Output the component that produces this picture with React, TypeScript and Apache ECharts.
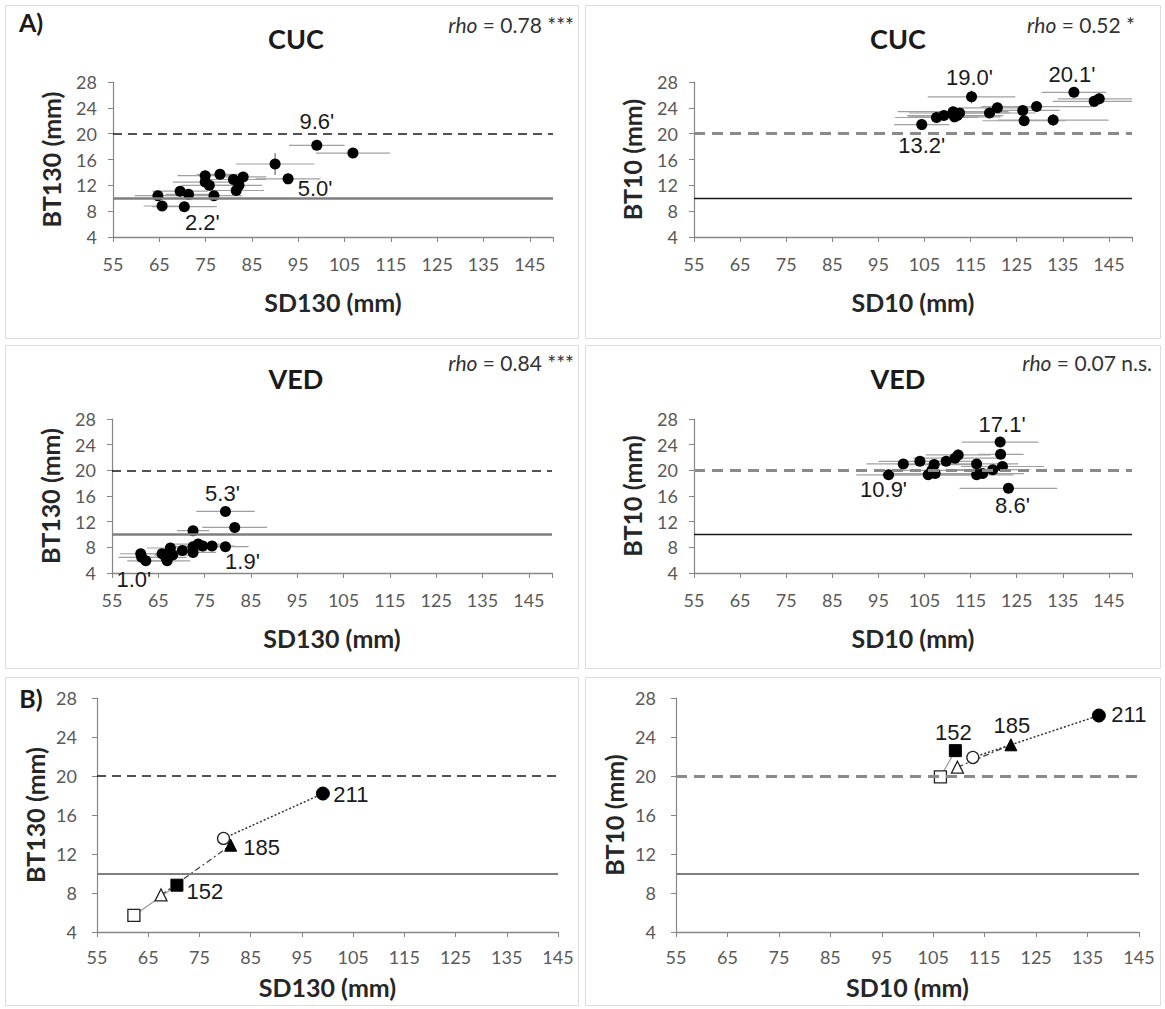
import React, { useEffect, useRef } from "react";
import * as echarts from "echarts";

// ---------- Data ----------
const xTickValues = [55, 65, 75, 85, 95, 105, 115, 125, 135, 145];
const yTickValues = [4, 8, 12, 16, 20, 24, 28];
const limitHigh = 20;
const limitLow = 10;

// Panel A — CUC, SD130 vs BT130
const cucSD130 = [64.7, 65.6, 70.4, 69.5, 71.3, 74.9, 74.9, 75.8, 76.8, 78.1, 81.0, 81.6, 82.2, 83.1, 90.0, 92.8, 99.0, 106.8];
const cucBT130 = [10.4, 8.8, 8.7, 11.1, 10.6, 13.5, 12.5, 12.0, 10.4, 13.7, 12.9, 11.2, 12.0, 13.3, 15.3, 13.0, 18.2, 17.0];
const cucSD130Err = [5, 4, 7, 6, 5, 6, 7, 6, 6, 5, 7, 6, 5, 5, 8.5, 7, 6, 8];
const cucBT130Err = [0.5, 0.4, 0.4, 0.6, 0.5, 0.6, 0.5, 0.5, 0.5, 0.5, 0.6, 0.5, 0.5, 0.6, 1.7, 0.6, 0.6, 0.5];
const cucA130Notes = [{ index: 16, text: "9.6'" }, { index: 15, text: "5.0'" }, { index: 2, text: "2.2'" }];

// Panel A — CUC, SD10 vs BT10
const cucSD10 = [104.4, 107.6, 109.2, 111.2, 112.1, 112.6, 115.2, 119.1, 120.8, 126.3, 126.6, 129.3, 132.9, 137.4, 141.8, 142.9, 111.5];
const cucBT10 = [21.4, 22.5, 22.8, 23.4, 22.8, 23.2, 25.7, 23.2, 24.0, 23.6, 22.0, 24.2, 22.1, 26.4, 25.0, 25.4, 22.6];
const cucSD10Err = [6, 9, 8, 12, 10, 11, 9.5, 10, 8, 8, 9, 12, 12, 7, 9, 9, 10];
const cucBT10Err = [0.8, 0.8, 0.7, 0.8, 0.7, 0.8, 1.0, 0.8, 0.8, 0.8, 0.7, 0.8, 0.9, 0.8, 0.9, 0.9, 0.7];
const cucA10Notes = [{ index: 6, text: "19.0'" }, { index: 13, text: "20.1'" }, { index: 0, text: "13.2'" }];

// Panel A — VED, SD130 vs BT130
const vedSD130 = [61.2, 61.4, 62.3, 65.8, 66.6, 66.9, 67.6, 68.1, 70.2, 72.5, 72.5, 72.5, 73.6, 74.6, 76.6, 79.5, 79.5, 81.5];
const vedBT130 = [7.0, 6.45, 5.9, 7.0, 6.45, 5.9, 7.9, 6.8, 7.5, 10.6, 8.1, 7.2, 8.5, 8.2, 8.2, 13.6, 8.1, 11.1];
const vedSD130Err = [4.5, 5, 4, 5, 4.5, 5, 5, 4, 5, 3.5, 6, 5, 6, 5, 5, 6.3, 5, 7];
const vedBT130Err = [0.4, 0.4, 0.4, 0.4, 0.4, 0.4, 0.4, 0.4, 0.4, 0.5, 0.4, 0.4, 0.4, 0.4, 0.4, 0.5, 0.4, 0.5];
const vedA130Notes = [{ index: 15, text: "5.3'" }, { index: 16, text: "1.9'" }, { index: 2, text: "1.0'" }];

// Panel A — VED, SD10 vs BT10
const vedSD10 = [97.2, 100.4, 104.0, 105.8, 106.6, 107.1, 107.3, 109.7, 111.6, 112.3, 116.3, 116.3, 117.6, 119.8, 121.4, 121.5, 121.9, 123.2];
const vedBT10 = [19.3, 21.0, 21.4, 19.3, 20.0, 20.9, 19.5, 21.4, 21.9, 22.4, 21.0, 19.3, 19.5, 20.1, 24.4, 22.5, 20.6, 17.2];
const vedSD10Err = [7, 8, 9, 10, 9, 8, 9, 7, 9, 7, 9, 8, 9, 8, 8.3, 5, 9, 10.6];
const vedBT10Err = [0.6, 0.6, 0.6, 0.6, 0.6, 0.6, 0.6, 0.6, 0.6, 0.9, 0.6, 0.6, 0.6, 0.6, 0.6, 0.6, 0.6, 0.6];
const vedA10Notes = [{ index: 14, text: "17.1'" }, { index: 0, text: "10.9'" }, { index: 17, text: "8.6'" }];

// Panel B — group means (open/filled symbol pairs)
const bSymbols = ["rect", "triangle", "rect", "circle", "triangle", "circle"];
const bFilled = [false, false, true, false, true, true];
const bLabels = ["", "", "152", "", "185", "211"];
const bSD130 = [62.2, 67.5, 70.6, 79.7, 81.1, 99.1];
const bBT130 = [5.7, 7.8, 8.8, 13.6, 12.9, 18.2];
const bSD10 = [106.4, 109.7, 109.3, 112.7, 120.1, 137.2];
const bBT10 = [19.9, 20.9, 22.6, 21.9, 23.2, 26.2];
const bPairs = [[0, 2], [1, 4], [3, 5]];

// ---------- Layout / styles ----------
const grids = [
  { left: 113, top: 82, width: 440, height: 155 },
  { left: 694, top: 82, width: 438, height: 155 },
  { left: 112, top: 419, width: 440, height: 154 },
  { left: 694, top: 419, width: 438, height: 154 },
  { left: 97, top: 698, width: 461, height: 234 },
  { left: 676, top: 698, width: 463, height: 234 },
];
const xMax = [150, 150, 150, 150, 145, 145];
const xNames = ["SD130 (mm)", "SD10 (mm)", "SD130 (mm)", "SD10 (mm)", "SD130 (mm)", "SD10 (mm)"];
const yNames = ["BT130 (mm)", "BT10 (mm)", "BT130 (mm)", "BT10 (mm)", "BT130 (mm)", "BT10 (mm)"];
const xNameGap = [52, 52, 52, 52, 42, 42];
const xLabelMargin = [18, 18, 18, 18, 16, 16];
const yLabelMargin = [16, 16, 16, 16, 20, 20];

const dashBlack = { color: "#1a1a1a", width: 1.6, type: [9, 6] };
const dashGray = { color: "#8a8a8a", width: 3, type: [11, 7] };
const solidGray = { color: "#7f7f7f", width: 2.5, type: "solid" };
const solidBlack = { color: "#1a1a1a", width: 1.4, type: "solid" };
const refStyles = [
  [dashBlack, solidGray],
  [dashGray, solidBlack],
  [dashBlack, solidGray],
  [dashGray, solidBlack],
  [dashBlack, { ...solidGray, width: 2 }],
  [dashGray, { ...solidGray, width: 2 }],
];

// label offsets (text centre relative to point, px)
const noteOffsets = [
  [[0, -24], [27, 10], [18, 16]],
  [[-2, -19], [-2, -18], [0, 21]],
  [[-3, -18], [17, 15], [-12, 19]],
  [[2, -18], [-5, 15], [4, 17]],
];
const bLabelOffsets130 = { 2: [28, 6], 4: [31, 2], 5: [28, 1] } as Record<number, number[]>;
const bLabelOffsets10 = { 2: [-2, -18], 4: [1, -19], 5: [30, -1] } as Record<number, number[]>;

const AXIS_FONT = "Lato, 'Open Sans', sans-serif";
const NOTE_FONT = "'Liberation Sans', Arial, sans-serif";

const scatterPanels = [
  { xs: cucSD130, ys: cucBT130, ex: cucSD130Err, ey: cucBT130Err, notes: cucA130Notes },
  { xs: cucSD10, ys: cucBT10, ex: cucSD10Err, ey: cucBT10Err, notes: cucA10Notes },
  { xs: vedSD130, ys: vedBT130, ex: vedSD130Err, ey: vedBT130Err, notes: vedA130Notes },
  { xs: vedSD10, ys: vedBT10, ex: vedSD10Err, ey: vedBT10Err, notes: vedA10Notes },
];

function refLines(i: number) {
  const [hi, lo] = refStyles[i];
  return {
    silent: true,
    symbol: ["none", "none"],
    label: { show: false },
    animation: false,
    data: [
      { yAxis: limitHigh, lineStyle: hi },
      { yAxis: limitLow, lineStyle: lo },
    ],
  };
}

function errorBars(i: number, xs: number[], ys: number[], ex: number[], ey: number[]) {
  return {
    type: "custom",
    xAxisIndex: i,
    yAxisIndex: i,
    clip: true,
    silent: true,
    z: 1,
    data: xs.map((v, k) => [v, ys[k], ex[k], ey[k]]),
    encode: { x: 0, y: 1 },
    renderItem: (_p: any, api: any) => {
      const x = api.value(0);
      const y = api.value(1);
      const dx = api.value(2);
      const dy = api.value(3);
      const a = api.coord([x - dx, y]);
      const b = api.coord([x + dx, y]);
      const c = api.coord([x, y - dy]);
      const d = api.coord([x, y + dy]);
      return {
        type: "group",
        children: [
          { type: "line", shape: { x1: a[0], y1: a[1], x2: b[0], y2: b[1] }, style: { stroke: "#a0a0a0", lineWidth: 1.2 } },
          { type: "line", shape: { x1: c[0], y1: c[1], x2: d[0], y2: d[1] }, style: { stroke: "#555", lineWidth: 1 } },
        ],
      };
    },
  };
}

function scatterSeries(i: number) {
  const p = scatterPanels[i];
  const data = p.xs.map((v, k) => {
    const ni = p.notes.findIndex((n) => n.index === k);
    if (ni < 0) return { value: [v, p.ys[k]] };
    return {
      value: [v, p.ys[k]],
      label: {
        show: true,
        position: "inside",
        formatter: p.notes[ni].text,
        offset: noteOffsets[i][ni],
        fontSize: 22,
        fontFamily: NOTE_FONT,
        color: "#1a1a1a",
      },
    };
  });
  return {
    type: "scatter",
    xAxisIndex: i,
    yAxisIndex: i,
    symbol: "circle",
    symbolSize: 11,
    itemStyle: { color: "#000", opacity: 1 },
    z: 3,
    data,
    markLine: refLines(i),
  };
}

function bSeries(i: number, xs: number[], ys: number[], offs: Record<number, number[]>) {
  const pairStyles = [
    { color: "#9a9a9a", width: 1.2, type: "solid" },
    { color: "#444", width: 1.3, type: [6, 3, 2, 3] },
    { color: "#333", width: 1.5, type: [2, 2] },
  ];
  return bPairs.map((pair, pi) => ({
    type: "line",
    xAxisIndex: i,
    yAxisIndex: i,
    z: 3,
    showSymbol: true,
    lineStyle: pairStyles[pi],
    data: pair.map((k) => {
      const item: any = {
        value: [xs[k], ys[k]],
        symbol: bSymbols[k],
        symbolSize: bSymbols[k] === "circle" && bFilled[k] ? 13 : 12,
        itemStyle: bFilled[k]
          ? { color: "#000", borderColor: "#000", borderWidth: 1, opacity: 1 }
          : { color: "#fff", borderColor: "#222", borderWidth: 1.3, opacity: 1 },
      };
      if (bLabels[k]) {
        item.label = {
          show: true,
          position: "inside",
          formatter: bLabels[k],
          offset: offs[k],
          fontSize: 22,
          fontFamily: NOTE_FONT,
          color: "#1a1a1a",
        };
      }
      return item;
    }),
    markLine: pi === 0 ? refLines(i) : undefined,
  }));
}

function buildOption() {
  const xAxis = grids.map((_, i) => ({
    type: "value",
    gridIndex: i,
    min: 55,
    max: xMax[i],
    interval: 10,
    axisLine: { show: true, onZero: false, lineStyle: { color: "#868686", width: 1.3 } },
    axisTick: { show: true, length: 5, lineStyle: { color: "#868686" } },
    axisLabel: {
      color: "#595959",
      fontSize: 18,
      fontFamily: AXIS_FONT,
      margin: xLabelMargin[i],
      formatter: (v: number) => (xTickValues.indexOf(v) >= 0 ? String(v) : ""),
    },
    splitLine: { show: false },
    name: xNames[i],
    nameLocation: "middle",
    nameGap: xNameGap[i],
    nameTextStyle: { fontSize: 25, fontWeight: "bold", fontFamily: AXIS_FONT, color: "#262626" },
  }));
  const yAxis = grids.map((_, i) => ({
    type: "value",
    gridIndex: i,
    min: 4,
    max: 28,
    interval: 4,
    axisLine: { show: true, onZero: false, lineStyle: { color: "#868686", width: 1.2 } },
    axisTick: { show: true, length: 5, lineStyle: { color: "#868686" } },
    axisLabel: {
      color: "#595959",
      fontSize: 18,
      fontFamily: AXIS_FONT,
      margin: yLabelMargin[i],
      formatter: (v: number) => (yTickValues.indexOf(v) >= 0 ? String(v) : ""),
    },
    splitLine: { show: false },
    name: yNames[i],
    nameLocation: "middle",
    nameGap: 50,
    nameTextStyle: { fontSize: 25, fontWeight: "bold", fontFamily: AXIS_FONT, color: "#262626" },
  }));

  const series: any[] = [];
  scatterPanels.forEach((p, i) => {
    series.push(errorBars(i, p.xs, p.ys, p.ex, p.ey));
    series.push(scatterSeries(i));
  });
  series.push(...bSeries(4, bSD130, bBT130, bLabelOffsets130));
  series.push(...bSeries(5, bSD10, bBT10, bLabelOffsets10));

  const boxes = [
    [5, 5, 573, 333],
    [585, 5, 575, 333],
    [5, 345, 573, 323],
    [585, 345, 575, 323],
    [5, 677, 573, 328],
    [585, 677, 575, 328],
  ];
  const textEl = (x: number, y: number, text: string, size: number, weight: string, align: string, extra: any = {}) => ({
    type: "text",
    x,
    y,
    silent: true,
    style: {
      text,
      fontSize: size,
      fontWeight: weight,
      fontFamily: AXIS_FONT,
      fill: "#1a1a1a",
      align,
      textAlign: align,
      verticalAlign: "middle",
      textVerticalAlign: "middle",
      ...extra,
    },
  });
  const rho = (x: number, y: number, text: string) =>
    textEl(x, y, "{i|rho} = " + text, 21, "normal", "right", {
      fill: "#333",
      rich: { i: { fontStyle: "italic", fontSize: 21, fontFamily: AXIS_FONT, fill: "#333" } },
    });

  const graphic: any[] = [
    ...boxes.map((b) => ({
      type: "rect",
      silent: true,
      shape: { x: b[0] + 0.5, y: b[1] + 0.5, width: b[2], height: b[3] },
      style: { fill: "none", stroke: "#dcdcdc", lineWidth: 1 },
    })),
    textEl(31, 22, "A)", 25, "bold", "center"),
    textEl(31, 698, "B)", 25, "bold", "center"),
    textEl(296, 38, "CUC", 27, "bold", "center"),
    textEl(898, 38, "CUC", 27, "bold", "center"),
    textEl(296, 378, "VED", 27, "bold", "center"),
    textEl(898, 378, "VED", 27, "bold", "center"),
    rho(574, 24, "0.78 ***"),
    rho(1135, 24, "0.52 *"),
    rho(574, 362, "0.84 ***"),
    rho(1152, 362, "0.07 n.s."),
  ];

  return {
    animation: false,
    backgroundColor: "#ffffff",
    grid: grids.map((g) => ({ ...g, containLabel: false })),
    xAxis,
    yAxis,
    series,
    graphic,
  };
}

export default function App() {
  const ref = useRef<HTMLDivElement>(null);
  useEffect(() => {
    if (!ref.current) return;
    const chart = echarts.init(ref.current, undefined, { renderer: "svg" });
    chart.setOption(buildOption() as any);
    return () => chart.dispose();
  }, []);
  return (
    <div
      ref={ref}
      style={{ position: "absolute", left: 0, top: 0, width: 1165, height: 1009, background: "#fff" }}
    />
  );
}
